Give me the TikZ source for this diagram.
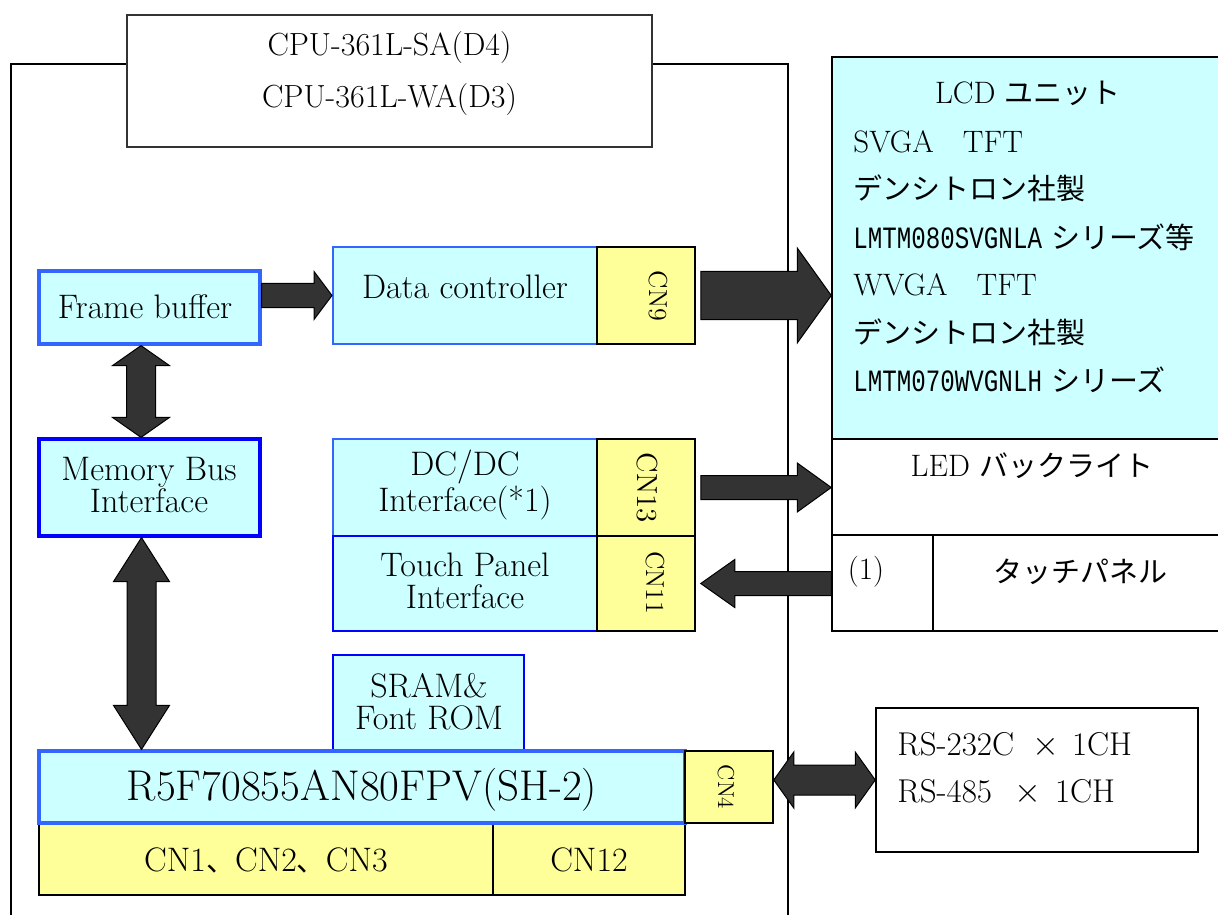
\documentclass[tikz,border=0pt]{standalone}
\usepackage{fontspec}
\usepackage{graphicx}
\newfontfamily\jpfont{Noto Sans CJK JP}
\newfontfamily\monofont{Liberation Mono}
\usetikzlibrary{calc,fit}
\definecolor{cy}{HTML}{CCFFFF}
\definecolor{yl}{HTML}{FFFF99}
\definecolor{blA}{HTML}{3366FF}
\definecolor{blB}{HTML}{0000FF}
\definecolor{ag}{HTML}{333333}
\newcommand\ja[1]{{\jpfont\fontsize{14.5}{17}\selectfont #1}}
\newcommand\mn[1]{\scalebox{0.78}[1]{\monofont #1}}
% single block arrow: tail, tip, shaft half, head half, head length
\newcommand\blockarrow[5]{%
  \coordinate (ba-h) at ($(#2)!#5!(#1)$);
  \filldraw[blk] ($(#1)!#3!90:(#2)$) -- ($(ba-h)!#3!90:(#2)$) -- ($(ba-h)!#4!90:(#2)$) -- (#2)
    -- ($(ba-h)!#4!-90:(#2)$) -- ($(ba-h)!#3!-90:(#2)$) -- ($(#1)!#3!-90:(#2)$) -- cycle;}
% double block arrow: end A, end B, shaft half, head half, head length
\newcommand\dblockarrow[5]{%
  \coordinate (da-1) at ($(#1)!#5!(#2)$);
  \coordinate (da-2) at ($(#2)!#5!(#1)$);
  \filldraw[blk] (#1) -- ($(da-1)!#4!90:(#2)$) -- ($(da-1)!#3!90:(#2)$) -- ($(da-2)!#3!90:(#2)$)
    -- ($(da-2)!#4!90:(#2)$) -- (#2) -- ($(da-2)!#4!-90:(#2)$) -- ($(da-2)!#3!-90:(#2)$)
    -- ($(da-1)!#3!-90:(#2)$) -- ($(da-1)!#4!-90:(#2)$) -- cycle;}
\tikzset{
  box/.style={fit={#1}, inner sep=0pt, rectangle},
  every node/.style={font=\fontsize{17}{16}\selectfont},
  cyA/.style={fill=cy, draw=blA, line width=1pt},
  cyB/.style={fill=cy, draw=blB, line width=1.25pt},
  ybox/.style={fill=yl, draw=black, line width=0.75pt},
  wbox/.style={fill=white, draw=black, line width=0.75pt},
  txt/.style={inner sep=0pt, align=center},
  lcdtxt/.style={inner sep=0pt, anchor=west, font=\fontsize{15.5}{16}\selectfont},
  rstxt/.style={inner sep=0pt, anchor=west, font=\fontsize{16.5}{17}\selectfont},
  cnlab/.style={inner sep=0pt, rotate=-90, font=\fontsize{13}{14}\selectfont},
  board/.style={draw=black, line width=0.75pt},
  blk/.style={fill=ag, draw=black, line width=0.5pt, line join=miter},
}
\begin{document}
\begin{tikzpicture}[x=0.5pt,y=-0.5pt]
\useasboundingbox (0,0) rectangle (1218,914);
\fill[white] (0,0) rectangle (1218,914);
\clip (0,0) rectangle (1218,914);

% board outline
\draw[board] (127,64) -- (11,64) -- (11,930);
\draw[board] (652,64) -- (788,64) -- (788,930);

% title
\node[box={(127,15) (652,147)}, fill=white, draw=black!80, line width=0.75pt] (title) {};
\node[txt, font=\fontsize{16}{26}\selectfont] (titletext) at (389.5,74) {CPU-361L-SA(D4)\\CPU-361L-WA(D3)};

% left column
\node[box={(39,271) (260,344)}, cyA, line width=1.6pt] (fb) {};
\node[txt] (fbtext) at (145,307) {Frame buffer};
\node[box={(39,439) (260,536)}, cyB, line width=1.6pt] (mbi) {};
\node[txt] (mbitext) at (149,485) {Memory Bus\\Interface};

% middle column
\node[box={(333,247) (597,344)}, cyA] (dc) {};
\node[txt] (dctext) at (465,287) {Data controller};
\node[box={(597,247) (695,344)}, ybox] (cn9) {};
\node[cnlab] (cn9text) at (658,296) {CN9};

\node[box={(333,439) (597,536)}, cyA] (dcdc) {};
\node[txt] (dcdctext) at (465,485) {DC/DC\\Interface(*1)};
\node[box={(333,536) (597,631)}, cyB] (tpi) {};
\node[txt] (tpitext) at (465,581) {Touch Panel\\Interface};
\node[box={(597,439) (695,536)}, ybox] (cn13) {};
\node[cnlab, font=\fontsize{14.5}{15}\selectfont] (cn13text) at (647,488) {CN13};
\node[box={(597,536) (695,631)}, ybox] (cn11) {};
\node[cnlab] (cn11text) at (655,583) {CN11};

\node[box={(333,655) (524,751)}, cyB, line width=1.4pt] (sram) {};
\node[txt] (sramtext) at (429,702) {SRAM\&\\Font ROM};

% CPU and bottom connectors
\node[box={(39,823) (493,895)}, ybox] (cn123) {};
\node[txt] (cn123text) at (266,860) {CN1\ja{、}CN2\ja{、}CN3};
\node[box={(493,823) (685,895)}, ybox] (cn12) {};
\node[txt] (cn12text) at (589,860) {CN12};
\node[box={(39,751) (685,823)}, cyA, line width=1.6pt] (cpu) {};
\node[txt, font=\fontsize{21.5}{22}\selectfont] (cputext) at (362,790) {R5F70855AN80FPV(SH-2)};
\node[box={(685,751) (773,823)}, ybox] (cn4) {};
\node[cnlab, font=\fontsize{11.5}{12}\selectfont] (cn4text) at (726,787) {CN4};

% right side
\node[box={(832,57) (1232,439)}, fill=cy, draw=black, line width=0.75pt] (lcd) {};
\node[txt, font=\fontsize{15.5}{16}\selectfont] (lcd0) at (1028,93) {LCD \ja{ユニット}};
\node[lcdtxt] (lcd1) at (853,142) {SVGA\hspace{14.5pt}TFT};
\node[lcdtxt] (lcd2) at (853,188) {\ja{デンシトロン社製}};
\node[lcdtxt] (lcd3) at (853,237) {\mn{LMTM080SVGNLA} \ja{シリーズ等}};
\node[lcdtxt] (lcd4) at (853,285) {WVGA\hspace{14.5pt}TFT};
\node[lcdtxt] (lcd5) at (853,332) {\ja{デンシトロン社製}};
\node[lcdtxt] (lcd6) at (853,380) {\mn{LMTM070WVGNLH} \ja{シリーズ}};

\node[box={(832,439) (1232,535)}, wbox] (led) {};
\node[txt, font=\fontsize{15.5}{16}\selectfont] (ledtext) at (1032,466) {LED \ja{バックライト}};
\node[box={(832,535) (933,631)}, wbox] (tp1) {};
\node[txt, font=\fontsize{15.5}{16}\selectfont] (tp1text) at (866,572) {(1)};
\node[box={(933,535) (1232,631)}, wbox] (tp) {};
\node[txt] (tptext) at (1080,572) {\ja{タッチパネル}};

\node[box={(876,708) (1198,852)}, wbox] (rs) {};
\node[rstxt] (rs1) at (897,745) {RS-232C\hspace{9pt}$\times$\hspace{6.5pt}1CH};
\node[rstxt] (rs2) at (897,792) {RS-485\hspace{11pt}$\times$\hspace{7pt}1CH};

% block arrows
\coordinate (a1t) at (fb.east |- dc.west);
\blockarrow{a1t}{dc.west}{6pt}{12pt}{9pt}

\coordinate (a2t) at ($(cn9.east)+(5,0)$);
\coordinate (a2h) at (lcd.west |- cn9.east);
\blockarrow{a2t}{a2h}{12pt}{23.75pt}{17pt}

\coordinate (a3t) at ($(cn13.east)+(5,0)$);
\coordinate (a3h) at (led.west |- cn13.east);
\blockarrow{a3t}{a3h}{6pt}{12.25pt}{17pt}

\coordinate (a4h) at ($(cn11.east)+(5,0)$);
\coordinate (a4t) at (tp1.west |- cn11.east);
\blockarrow{a4t}{a4h}{6pt}{12pt}{17pt}

\coordinate (a5a) at ($(fb.south)+(-8.5,0)$);
\coordinate (a5b) at ($(mbi.north)+(-8.5,0)$);
\dblockarrow{a5a}{a5b}{7.25pt}{14.25pt}{10pt}

\coordinate (a6a) at ($(mbi.south)+(-8,0)$);
\coordinate (a6b) at (a6a |- cpu.north);
\dblockarrow{a6a}{a6b}{7.25pt}{14pt}{22pt}

\coordinate (a7a) at ($(cn4.east)+(0,-7)$);
\coordinate (a7b) at (rs.west |- a7a);
\dblockarrow{a7a}{a7b}{7.5pt}{14pt}{10pt}
\end{tikzpicture}
\end{document}
